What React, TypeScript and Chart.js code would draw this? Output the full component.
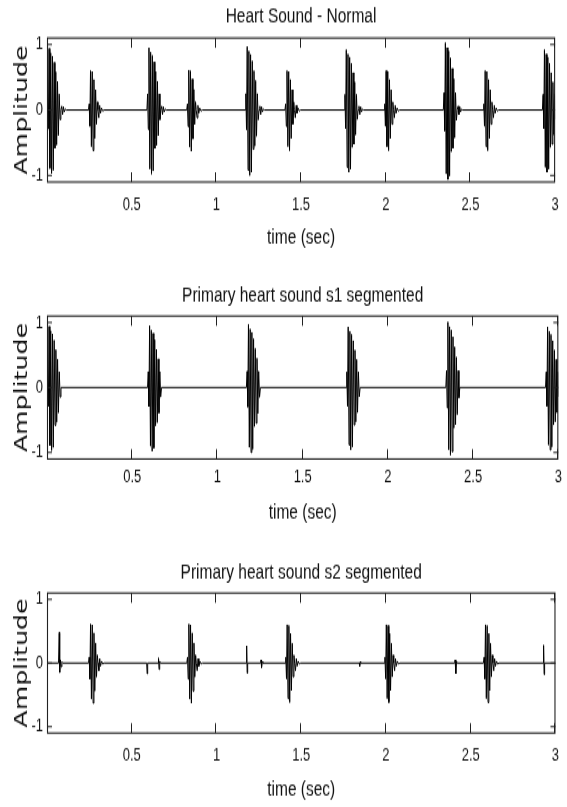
import React, { useEffect, useRef } from "react";
import { Chart, registerables } from "chart.js";

Chart.register(...registerables);

// ---------------- text ----------------
const TITLES = [
  "Heart Sound - Normal",
  "Primary heart sound s1 segmented",
  "Primary heart sound s2 segmented",
];
const X_LABEL = "time (sec)";
const Y_LABEL = "Amplitude";
const X_TICKS = [0.5, 1, 1.5, 2, 2.5, 3];
const Y_TICKS = [-1, 0, 1];
const T_MIN = 0;
const T_MAX = 3;
const Y_MIN = -1.1;
const Y_MAX = 1.1;

// ---------------- data ----------------
// S1 (first heart sound) burst: offsets from onset (s) and normalised amplitudes
const S1_OFFSETS = [0, 0.004, 0.008, 0.012, 0.017, 0.022, 0.027, 0.032, 0.037, 0.042, 0.047, 0.052, 0.057, 0.062, 0.067, 0.072, 0.077, 0.082];
const S1_SHAPE = [0, 0.25, -0.3, 0.97, -0.92, 0.9, -1.0, 0.85, -0.95, 0.75, -0.6, 0.6, -0.55, 0.45, -0.4, 0.25, -0.15, 0];
const S1_TAIL_OFFSETS = [0.087, 0.092, 0.097, 0.102, 0.108, 0.114];
const S1_TAIL = [0.06, -0.07, 0.05, -0.03, 0.015, 0];

// S2 (second heart sound) burst
const S2_OFFSETS = [0, 0.004, 0.008, 0.012, 0.017, 0.022, 0.027, 0.032, 0.037, 0.042, 0.047, 0.052, 0.056];
const S2_SHAPE = [0, 0.15, -0.4, 0.97, -0.9, 0.95, -1.0, 0.75, -0.7, 0.5, -0.35, 0.2, 0];
const S2_TAIL_OFFSETS = [0.061, 0.066, 0.071, 0.077, 0.084, 0.092];
const S2_TAIL = [-0.12, 0.07, -0.05, 0.03, -0.015, 0];

// onsets (s) and peak amplitudes
const S1_ONSETS = [0.0, 0.59, 1.17, 1.755, 2.34, 2.925];
const S1_GAINS_FULL = [0.97, 0.98, 1.0, 0.95, 1.06, 0.95];
const S1_GAINS_SEG = [0.97, 0.98, 1.0, 0.96, 1.04, 0.96];
const S2_ONSETS = [0.245, 0.825, 1.405, 1.99, 2.575];
const S2_GAINS_FULL = [0.62, 0.63, 0.62, 0.62, 0.62];
const S2_GAINS_SEG = [0.63, 0.63, 0.62, 0.62, 0.62];

// residual clicks left in the s2-segmented trace
const CLICK_T = [0.068, 0.072, 0.075, 0.079, 0.083, 0.088, 0.093, 0.588, 0.591, 0.594, 0.655, 0.658, 0.661, 0.665, 0.669, 1.175, 1.178, 1.181, 1.184, 1.26, 1.263, 1.266, 1.27, 1.274, 1.842, 1.845, 1.848, 1.851, 2.405, 2.408, 2.412, 2.416, 2.42, 2.927, 2.93, 2.933, 2.936];
const CLICK_V = [0, 0.48, -0.15, 0.05, -0.06, 0.02, 0, 0, -0.17, 0, 0, 0.08, -0.1, 0.03, 0, 0, 0.27, -0.16, 0, 0, 0.05, -0.07, 0.02, 0, 0, -0.05, 0.02, 0, 0, 0.05, -0.17, 0.03, 0, 0, 0.28, -0.18, 0];

type Pt = { x: number; y: number };

function bursts(onsets: number[], gains: number[], offs: number[], shape: number[]): Pt[] {
  const out: Pt[] = [];
  onsets.forEach((t0, k) => offs.forEach((o, i) => out.push({ x: t0 + o, y: gains[k] * shape[i] })));
  return out;
}
function tails(onsets: number[], offs: number[], vals: number[]): Pt[] {
  const out: Pt[] = [];
  onsets.forEach((t0) => offs.forEach((o, i) => out.push({ x: t0 + o, y: vals[i] })));
  return out;
}
function series(parts: Pt[][]): Pt[] {
  const pts = ([] as Pt[]).concat(...parts).sort((a, b) => a.x - b.x);
  const out: Pt[] = [{ x: T_MIN, y: 0 }, ...pts];
  if (out[out.length - 1].x < T_MAX) out.push({ x: T_MAX, y: 0 });
  return out;
}

const SERIES: Pt[][] = [
  series([
    bursts(S1_ONSETS, S1_GAINS_FULL, S1_OFFSETS, S1_SHAPE),
    tails(S1_ONSETS, S1_TAIL_OFFSETS, S1_TAIL),
    bursts(S2_ONSETS, S2_GAINS_FULL, S2_OFFSETS, S2_SHAPE),
    tails(S2_ONSETS, S2_TAIL_OFFSETS, S2_TAIL),
  ]),
  series([bursts(S1_ONSETS, S1_GAINS_SEG, S1_OFFSETS, S1_SHAPE)]),
  series([
    bursts(S2_ONSETS, S2_GAINS_SEG, S2_OFFSETS, S2_SHAPE),
    tails(S2_ONSETS, S2_TAIL_OFFSETS, S2_TAIL),
    CLICK_T.map((t, i) => ({ x: t, y: CLICK_V[i] })),
  ]),
];

// ---------------- layout (page px) ----------------
const W = 567;
const H = 182; // canvas units
const S = 1.4; // vertical stretch of the figure
const AREA_LEFT = 47;
const AREA_RIGHT = 559;
const PANELS = [
  { top: 0, titleC: 17, areaTop: 38, areaBot: 182, tickC: 204.5, xlabC: 238 },
  { top: 275, titleC: 295, areaTop: 316, areaBot: 459, tickC: 477, xlabC: 512 },
  { top: 552, titleC: 572, areaTop: 593, areaBot: 733, tickC: 755, xlabC: 790 },
];
const FONT = "'Liberation Sans', Arial, Helvetica, sans-serif";
const TEXT = "#111";
const AXIS = "#222";

const framePlugin = {
  id: "matlabFrame",
  afterDatasetsDraw(chart: any) {
    const { ctx, chartArea: a, scales } = chart;
    const xs = scales.x;
    const ys = scales.y;
    ctx.save();
    ctx.strokeStyle = AXIS;
    ctx.lineWidth = 1;
    ctx.beginPath();
    X_TICKS.forEach((v) => {
      const px = Math.round(xs.getPixelForValue(v)) - 0.5;
      ctx.moveTo(px, a.top);
      ctx.lineTo(px, a.top + 7);
      ctx.moveTo(px, a.bottom);
      ctx.lineTo(px, a.bottom - 7);
    });
    Y_TICKS.forEach((v) => {
      const py = ys.getPixelForValue(v);
      ctx.moveTo(a.left, py);
      ctx.lineTo(a.left + 5, py);
      ctx.moveTo(a.right, py);
      ctx.lineTo(a.right - 5, py);
    });
    ctx.stroke();
    ctx.lineWidth = 1.1;
    ctx.strokeRect(a.left + 0.5, a.top, a.right - a.left - 1, a.bottom - a.top);
    ctx.restore();
  },
};

function Panel({ idx }: { idx: number }) {
  const ref = useRef<HTMLCanvasElement>(null);
  const p = PANELS[idx];
  useEffect(() => {
    const c = (v: number) => (v - p.top) / S;
    const titleSize = 15.5;
    const titleLH = titleSize * 1.2;
    const tickSize = 13;
    const xlabSize = 15.5;
    const xlabLH = xlabSize * 1.2;
    const ylabSize = 18;
    const ylabLH = ylabSize * 1.2;
    const xh = c(p.xlabC) - c(p.areaBot) + xlabLH / 2 + 2;
    const padBottom = H - c(p.areaBot) - xh;
    const chart = new Chart(ref.current as HTMLCanvasElement, {
      type: "line",
      data: {
        datasets: [
          {
            label: TITLES[idx],
            data: SERIES[idx],
            borderColor: "#000",
            borderWidth: 1,
            pointRadius: 0,
            tension: 0,
            borderJoinStyle: "bevel",
            fill: false,
          },
        ],
      },
      options: {
        responsive: false,
        animation: false,
        events: [],
        layout: { padding: { top: 0, left: 0, right: W - AREA_RIGHT, bottom: padBottom } },
        plugins: {
          legend: { display: false },
          tooltip: { enabled: false },
          title: {
            display: true,
            text: TITLES[idx],
            color: TEXT,
            fullSize: false,
            font: { family: FONT, size: titleSize, weight: "normal", lineHeight: 1.2 },
            padding: { top: c(p.titleC) - titleLH / 2, bottom: c(p.areaTop) - c(p.titleC) - titleLH / 2 },
          },
        },
        scales: {
          x: {
            type: "linear",
            min: T_MIN,
            max: T_MAX,
            grid: { display: false, drawTicks: false },
            border: { display: false },
            afterBuildTicks: (s: any) => {
              s.ticks = X_TICKS.map((v) => ({ value: v }));
            },
            afterFit: (s: any) => {
              s.height = xh;
            },
            ticks: {
              color: TEXT,
              font: { family: FONT, size: tickSize },
              padding: c(p.tickC) - c(p.areaBot) - (tickSize * 1.2) / 2,
              maxRotation: 0,
              autoSkip: false,
              callback: (v: any) => String(v),
            },
            title: {
              display: true,
              text: X_LABEL,
              color: TEXT,
              font: { family: FONT, size: xlabSize, lineHeight: 1.2 },
              padding: { top: 0, bottom: 2 },
            },
          },
          y: {
            type: "linear",
            min: Y_MIN,
            max: Y_MAX,
            grid: { display: false, drawTicks: false },
            border: { display: false },
            afterBuildTicks: (s: any) => {
              s.ticks = Y_TICKS.map((v) => ({ value: v }));
            },
            afterFit: (s: any) => {
              s.width = AREA_LEFT;
            },
            ticks: {
              color: TEXT,
              font: { family: FONT, size: tickSize },
              padding: 4,
              autoSkip: false,
              callback: (v: any) => String(v),
            },
            title: {
              display: true,
              text: Y_LABEL,
              color: TEXT,
              font: { family: "'DejaVu Sans', " + FONT, size: ylabSize, lineHeight: 1.2 },
              padding: { top: 22 - ylabLH / 2, bottom: 0 },
            },
          },
        },
      },
      plugins: [framePlugin],
    } as any);
    return () => chart.destroy();
  }, [idx]);
  return (
    <div
      style={{
        position: "absolute",
        left: 0,
        top: p.top,
        width: W,
        height: H,
        transform: `scaleY(${S})`,
        transformOrigin: "0 0",
      }}
    >
      <canvas ref={ref} width={W} height={H} style={{ display: "block" }} />
    </div>
  );
}

export default function App() {
  return (
    <div
      style={{
        position: "absolute",
        left: 0,
        top: 0,
        width: W,
        height: 807,
        background: "#fff",
        overflow: "hidden",
      }}
    >
      {PANELS.map((_, i) => (
        <Panel key={i} idx={i} />
      ))}
    </div>
  );
}
